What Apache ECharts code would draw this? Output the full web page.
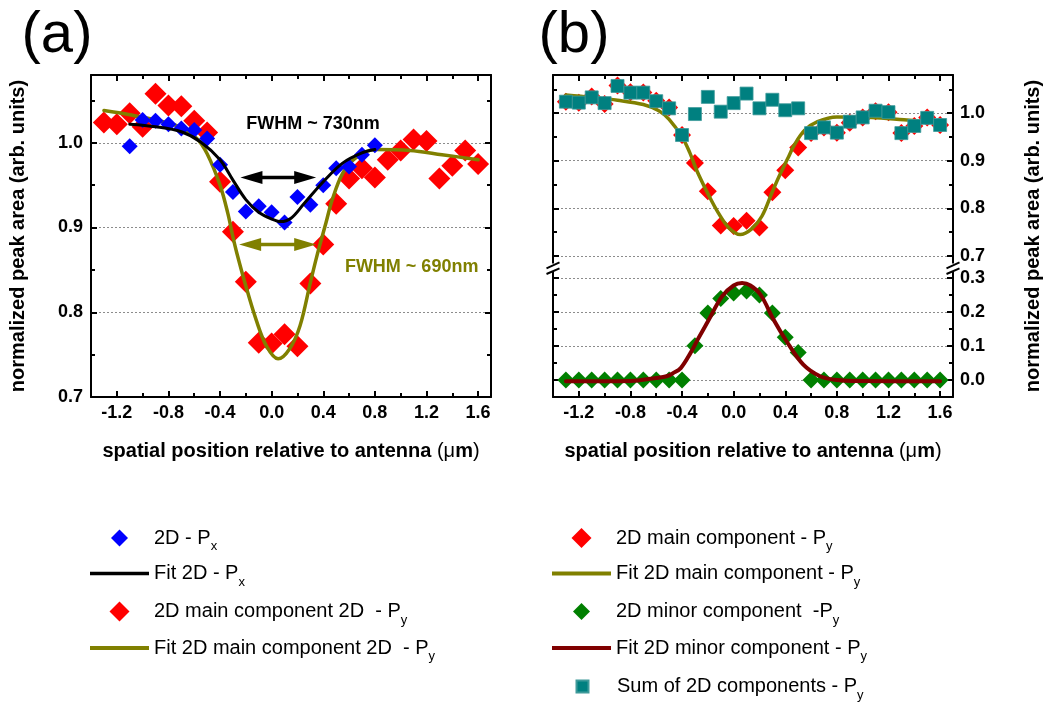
<!DOCTYPE html>
<html>
<head>
<meta charset="utf-8">
<title>Normalized peak area vs. position</title>
<script src="https://cdn.jsdelivr.net/npm/echarts@6/dist/echarts.min.js"></script>
<style>
  html, body { margin: 0; padding: 0; background: #fff; }
  #chart { width: 1045px; height: 706px; }
</style>
</head>
<body>
<div id="chart"></div>
<script>
// ---- measured data (positions in µm, normalized peak area) ----
const posPx = [-1.1, -1.0, -0.9, -0.8, -0.7, -0.6, -0.5, -0.4, -0.3, -0.2, -0.1, 0.0, 0.1, 0.2, 0.3, 0.4, 0.5, 0.6, 0.7, 0.8];
const areaPx = [0.996, 1.027, 1.026, 1.022, 1.017, 1.015, 1.005, 0.974, 0.942, 0.919, 0.925, 0.918, 0.906, 0.936, 0.927, 0.950, 0.970, 0.972, 0.986, 0.997];

const posPy = [-1.3, -1.2, -1.1, -1.0, -0.9, -0.8, -0.7, -0.6, -0.5, -0.4, -0.3, -0.2, -0.1, 0.0, 0.1,
               0.2, 0.3, 0.4, 0.5, 0.6, 0.7, 0.8, 0.9, 1.0, 1.1, 1.2, 1.3, 1.4, 1.5, 1.6];
const areaMainPy = [1.024, 1.022, 1.035, 1.019, 1.058, 1.044, 1.043, 1.026, 1.012, 0.954, 0.895, 0.836, 0.764, 0.763, 0.774,
                    0.760, 0.834, 0.880, 0.928, 0.958, 0.970, 0.959, 0.980, 0.991, 1.004, 1.002, 0.958, 0.973, 0.991, 0.975];
const areaMinorPy = [0, 0, 0, 0, 0, 0, 0, 0, 0, 0, 0.101, 0.197, 0.240, 0.256, 0.262,
                     0.250, 0.197, 0.126, 0.081, 0, 0, 0, 0, 0, 0, 0, 0, 0, 0, 0];
const areaSumPy = [1.024, 1.022, 1.033, 1.021, 1.057, 1.043, 1.043, 1.025, 1.010, 0.954, 0.998, 1.034, 1.003, 1.021, 1.041,
                   1.010, 1.028, 1.006, 1.010, 0.958, 0.970, 0.959, 0.982, 0.991, 1.005, 1.002, 0.958, 0.973, 0.990, 0.975];

// ---- fitted curves ----
const fitPxX = [-1.1, -0.9, -0.7, -0.55, -0.4, -0.3, -0.2, -0.1, 0.0, 0.07, 0.15, 0.25, 0.4, 0.55, 0.7, 0.8];
const fitPxY = [1.022, 1.019, 1.013, 1.001, 0.980, 0.956, 0.933, 0.918, 0.910, 0.907, 0.911, 0.928, 0.954, 0.976, 0.988, 0.992];

const fitMainX = [-1.3, -1.1, -0.9, -0.7, -0.58, -0.5, -0.4, -0.34, -0.3, -0.27, -0.2, -0.12, -0.04, 0.05, 0.14,
                  0.22, 0.3, 0.35, 0.42, 0.47, 0.55, 0.65, 0.8, 1.07, 1.32, 1.6];
const fitMainY = [1.038, 1.033, 1.027, 1.018, 1.005, 0.987, 0.950, 0.917, 0.889, 0.870, 0.831, 0.791, 0.760, 0.745, 0.757,
                  0.784, 0.835, 0.866, 0.905, 0.933, 0.964, 0.982, 0.992, 0.991, 0.986, 0.980];

const fitMinorX = [-1.3, -0.8, -0.6, -0.52, -0.47, -0.41, -0.335, -0.28, -0.2, -0.09, 0.0, 0.065, 0.13, 0.21, 0.31,
                   0.41, 0.54, 0.67, 0.8, 1.0, 1.6];
const fitMinorY = [-0.004, -0.003, 0.006, 0.011, 0.020, 0.035, 0.079, 0.118, 0.172, 0.246, 0.278, 0.285, 0.278, 0.250, 0.177,
                   0.114, 0.045, 0.011, 0.000, -0.003, -0.004];

// ---- FWHM arrows (end points) ----
const fwhmPxX = [-0.242, 0.345];
const fwhmPxY = 0.959;
const fwhmMainX = [-0.252, 0.345];
const fwhmMainY = 0.880;

// ---- tick labels ----
const xTickLabels = [-1.2, -0.8, -0.4, 0.0, 0.4, 0.8, 1.2, 1.6];

// ---- series names ----
const NAME_PX = '2D - Px';
const NAME_FIT_PX = 'Fit 2D - Px';
const NAME_MAIN_A = '2D main component 2D  - Py';
const NAME_FIT_MAIN_A = 'Fit 2D main component 2D  - Py';
const NAME_MAIN_B = '2D main component - Py';
const NAME_FIT_MAIN_B = 'Fit 2D main component - Py';
const NAME_MINOR = '2D minor component  -Py';
const NAME_FIT_MINOR = 'Fit 2D minor component - Py';
const NAME_SUM = 'Sum of 2D components - Py';

// ---------------------------------------------------------------
const FONT = 'Arial, "Liberation Sans", Helvetica, sans-serif';
const INK = '#000';
const C_RED = '#ff0000', C_BLUE = '#0000ff', C_OLIVE = '#808000', C_GREEN = '#008000',
      C_DARKRED = '#800000', C_TEAL = '#008080';

const zip = (xs, ys) => xs.map((x, i) => [x, ys[i]]);

// plot boxes
const GA = { left: 91, top: 75, width: 400, height: 322 };
const GB1 = { left: 553, top: 75, width: 400, height: 181 };
const GB2 = { left: 553, top: 278, width: 400, height: 119 };
const grids = [GA, GB1, GB2].map(g => Object.assign({ containLabel: false, outerBoundsMode: 'none' }, g));

const lineStyleInk = { color: INK, width: 2 };
const X_RANGE = { min: -1.4, max: 1.7, interval: 0.2 };
const isMajorX = v => Math.abs(v / 0.4 - Math.round(v / 0.4)) < 1e-6;

// each horizontal edge: one axis carrying the line and short ticks, one carrying the long ticks
function xAxes(gridIndex, position, withLabels) {
  const base = Object.assign({ type: 'value', gridIndex, position }, X_RANGE);
  return [
    Object.assign({}, base, {
      axisLine: { show: true, onZero: false, lineStyle: lineStyleInk },
      axisTick: { show: true, inside: true, length: 4, lineStyle: lineStyleInk },
      axisLabel: withLabels ? {
        show: true, customValues: xTickLabels, margin: 7,
        formatter: v => (isMajorX(v) ? (Math.abs(v) < 1e-9 ? '0.0' : v.toFixed(1)) : ''),
        color: INK, fontFamily: FONT, fontSize: 18, fontWeight: 'bold'
      } : { show: false },
      splitLine: { show: false }
    }),
    Object.assign({}, base, {
      axisLine: { show: false, onZero: false },
      axisTick: { show: true, inside: true, length: 6, customValues: xTickLabels, lineStyle: lineStyleInk },
      axisLabel: { show: false },
      splitLine: { show: false }
    })
  ];
}

function yAxis(gridIndex, position, range, withLabels, withGrid) {
  const { showMaxLabel, ...scale } = range;
  return Object.assign({ type: 'value', gridIndex, position }, scale, {
    axisLine: { show: true, onZero: false, lineStyle: lineStyleInk },
    axisTick: { show: true, inside: true, length: 6, lineStyle: lineStyleInk },
    minorTick: { show: true, splitNumber: 2, length: 4, lineStyle: lineStyleInk },
    axisLabel: withLabels ? {
      show: true, margin: position === 'left' ? 8 : 7,
      showMinLabel: scale.min >= 0, showMaxLabel,
      formatter: v => (v < -1e-9 ? '' : v.toFixed(1)),
      color: INK, fontFamily: FONT, fontSize: 18, fontWeight: 'bold'
    } : { show: false },
    splitLine: withGrid ? { show: true, lineStyle: { color: '#8c8c8c', width: 1, type: [2, 2] } } : { show: false },
    minorSplitLine: { show: false }
  });
}

const Y_UPPER = { min: 0.7, max: 1.08, interval: 0.1, showMaxLabel: false };
const Y_LOWER = { min: -0.05, max: 0.3, splitNumber: 4, showMaxLabel: true };

const xAxisList = [].concat(
  xAxes(0, 'bottom', true),   // 0,1
  xAxes(0, 'top', false),     // 2,3
  xAxes(1, 'top', false),     // 4,5
  xAxes(2, 'bottom', true)    // 6,7
);
const yAxisList = [
  yAxis(0, 'left', Y_UPPER, true, true),    // 0
  yAxis(0, 'right', Y_UPPER, false, false), // 1
  yAxis(1, 'right', Y_UPPER, true, true),   // 2
  yAxis(1, 'left', Y_UPPER, false, false),  // 3
  yAxis(2, 'right', Y_LOWER, true, true),   // 4
  yAxis(2, 'left', Y_LOWER, false, false)   // 5
];

function scatter(name, xi, yi, data, color, symbol, size, z, border) {
  return {
    type: 'scatter', name, xAxisIndex: xi, yAxisIndex: yi, data,
    symbol, symbolSize: size, z,
    itemStyle: Object.assign({ color, opacity: 1 }, border || {}),
    emphasis: { disabled: true }, silent: true
  };
}
function fitLine(name, xi, yi, data, color, width, z) {
  return {
    type: 'line', name, xAxisIndex: xi, yAxisIndex: yi, data,
    symbol: 'none', showSymbol: false, smooth: 0.35, z,
    itemStyle: { color }, lineStyle: { color, width, cap: 'round', join: 'round' },
    emphasis: { disabled: true }, silent: true
  };
}

const series = [
  // panel (a)
  scatter(NAME_MAIN_A, 0, 0, zip(posPy, areaMainPy), C_RED, 'diamond', 22, 2),
  fitLine(NAME_FIT_MAIN_A, 0, 0, zip(fitMainX, fitMainY), C_OLIVE, 3.5, 3),
  scatter(NAME_PX, 0, 0, zip(posPx, areaPx), C_BLUE, 'diamond', 16, 4),
  fitLine(NAME_FIT_PX, 0, 0, zip(fitPxX, fitPxY), INK, 3, 5),
  // panel (b), upper part
  scatter(NAME_MAIN_B, 4, 2, zip(posPy, areaMainPy), C_RED, 'diamond', 18, 2),
  fitLine(NAME_FIT_MAIN_B, 4, 2, zip(fitMainX, fitMainY), C_OLIVE, 3.5, 3),
  scatter(NAME_SUM, 4, 2, zip(posPy, areaSumPy), C_TEAL, 'rect', 13, 4,
          { borderColor: '#3f9a9a', borderWidth: 0.8 }),
  // panel (b), lower part
  scatter(NAME_MINOR, 6, 4, zip(posPy, areaMinorPy), C_GREEN, 'diamond', 17, 2),
  fitLine(NAME_FIT_MINOR, 6, 4, zip(fitMinorX, fitMinorY), C_DARKRED, 4, 3)
];

// legends: one entry per row so each row sits on its own baseline
const ICON_DIAMOND = 'path://M5,0L10,5L5,10L0,5Z';
const ICON_SQUARE = 'path://M0,0L10,0L10,10L0,10Z';
const ICON_W = 59;
const legendRows = [
  { name: NAME_PX, icon: ICON_DIAMOND, h: 17, left: 90, cy: 538 },
  { name: NAME_FIT_PX, icon: 'rect', h: 3.5, left: 90, cy: 573.5 },
  { name: NAME_MAIN_A, icon: ICON_DIAMOND, h: 20, left: 90, cy: 611.5 },
  { name: NAME_FIT_MAIN_A, icon: 'rect', h: 4, left: 90, cy: 648 },
  { name: NAME_MAIN_B, icon: ICON_DIAMOND, h: 20, left: 552, cy: 538 },
  { name: NAME_FIT_MAIN_B, icon: 'rect', h: 4, left: 552, cy: 573.5 },
  { name: NAME_MINOR, icon: ICON_DIAMOND, h: 17, left: 552, cy: 611.5 },
  { name: NAME_FIT_MINOR, icon: 'rect', h: 4, left: 552, cy: 648 },
  { name: NAME_SUM, icon: ICON_SQUARE, h: 12, left: 552, cy: 686.5 }
];
const legendLabel = name => name.replace(/P([xy])$/, 'P{s|$1}');
const legends = legendRows.map(r => ({
  show: true, selectedMode: false, orient: 'horizontal',
  // symbol icons are centred in the icon box; the box origin is their left edge
  left: r.icon === 'rect' ? r.left : r.left + (ICON_W - r.h) / 2,
  top: r.cy - 15, padding: 0,
  itemWidth: ICON_W, itemHeight: r.h, itemGap: 0, symbolKeepAspect: true,
  data: [{ name: r.name, icon: r.icon }],
  formatter: legendLabel,
  textStyle: {
    color: INK, fontFamily: FONT, fontSize: 20, lineHeight: 30,
    rich: { s: { color: INK, fontFamily: FONT, fontSize: 13, lineHeight: 13, verticalAlign: 'bottom' } }
  }
}));

const option = {
  animation: false,
  backgroundColor: '#fff',
  textStyle: { fontFamily: FONT },
  grid: grids,
  xAxis: xAxisList,
  yAxis: yAxisList,
  legend: legends,
  series
};

const chart = echarts.init(document.getElementById('chart'), null, { renderer: 'canvas' });
chart.setOption(option);

// ---- annotations, titles and axis-break marks ----
const toPx = (xi, yi, x, y) => chart.convertToPixel({ xAxisIndex: xi, yAxisIndex: yi }, [x, y]);

function arrowGraphics(xs, y, color) {
  const a = toPx(0, 0, xs[0], y), b = toPx(0, 0, xs[1], y);
  const L = 22, H = 13;
  return [
    { type: 'line', silent: true, z: 20,
      shape: { x1: a[0] + L - 2, y1: a[1], x2: b[0] - L + 2, y2: b[1] },
      style: { stroke: color, lineWidth: 3.5 } },
    { type: 'polygon', silent: true, z: 20,
      shape: { points: [[a[0], a[1]], [a[0] + L, a[1] - H / 2], [a[0] + L, a[1] + H / 2]] },
      style: { fill: color } },
    { type: 'polygon', silent: true, z: 20,
      shape: { points: [[b[0], b[1]], [b[0] - L, b[1] - H / 2], [b[0] - L, b[1] + H / 2]] },
      style: { fill: color } }
  ];
}

const boldTitle = { fontFamily: FONT, fontSize: 20, fontWeight: 'bold', color: INK };
const xTitleText = '{b|spatial position relative to antenna }{n|(\u03bc}{b|m}{n|)}';
const xTitleRich = { b: boldTitle, n: { fontFamily: FONT, fontSize: 20, fontWeight: 'normal', color: INK } };
const yTitleText = 'normalized peak area (arb. units)';

function textEl(x, y, text, style, rotation) {
  return { type: 'text', silent: true, z: 30, x, y, rotation: rotation || 0,
    style: Object.assign({ text, align: 'center', verticalAlign: 'middle', fill: INK }, style) };
}

function breakMarks(x) {
  const yTop = GB1.top + GB1.height, yBot = GB2.top;
  const s = { stroke: INK, lineWidth: 2 };
  return [
    { type: 'line', silent: true, z: 25, shape: { x1: x, y1: yTop, x2: x, y2: yTop + 7.5 }, style: s },
    { type: 'line', silent: true, z: 25, shape: { x1: x, y1: yBot - 6.5, x2: x, y2: yBot }, style: s },
    { type: 'line', silent: true, z: 25, shape: { x1: x - 6.5, y1: yTop + 12.3, x2: x + 6.5, y2: yTop + 6.3 }, style: s },
    { type: 'line', silent: true, z: 25, shape: { x1: x - 6.5, y1: yTop + 18, x2: x + 6.5, y2: yTop + 12.3 }, style: s }
  ];
}

const fwhmPxLabel = toPx(0, 0, 0.32, 1.022);
const fwhmMainLabel = toPx(0, 0, 1.085, 0.853);

const graphics = [].concat(
  arrowGraphics(fwhmPxX, fwhmPxY, INK),
  arrowGraphics(fwhmMainX, fwhmMainY, C_OLIVE),
  [
    textEl(fwhmPxLabel[0], fwhmPxLabel[1], 'FWHM ~ 730nm', { fontFamily: FONT, fontSize: 18, fontWeight: 'bold', fill: INK }),
    textEl(fwhmMainLabel[0], fwhmMainLabel[1], 'FWHM ~ 690nm', { fontFamily: FONT, fontSize: 18, fontWeight: 'bold', fill: C_OLIVE }),
    textEl(57, 36, '(a)', { fontFamily: FONT, fontSize: 58, fontWeight: 'normal' }),
    textEl(574, 36, '(b)', { fontFamily: FONT, fontSize: 58, fontWeight: 'normal' }),
    textEl(GA.left + GA.width / 2, 451, xTitleText, { rich: xTitleRich }),
    textEl(GB1.left + GB1.width / 2, 451, xTitleText, { rich: xTitleRich }),
    textEl(18, GA.top + GA.height / 2, yTitleText, { fontFamily: FONT, fontSize: 20, fontWeight: 'bold' }, Math.PI / 2),
    textEl(1033, GA.top + GA.height / 2, yTitleText, { fontFamily: FONT, fontSize: 20, fontWeight: 'bold' }, Math.PI / 2)
  ],
  breakMarks(GB1.left),
  breakMarks(GB1.left + GB1.width)
);

chart.setOption({ graphic: graphics });
</script>
</body>
</html>
